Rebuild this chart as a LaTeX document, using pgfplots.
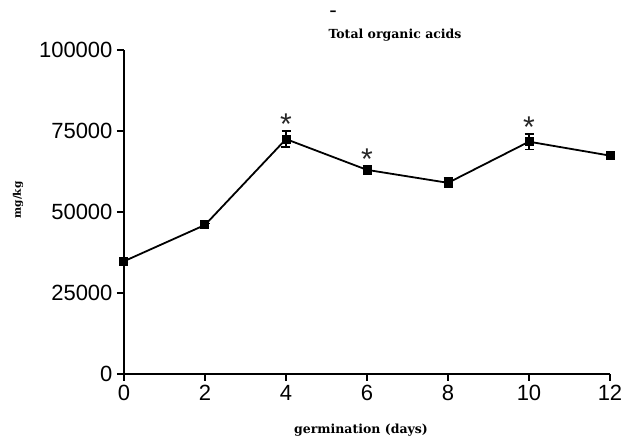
\documentclass[border=0pt]{standalone}
\usepackage{fontspec}
\setmainfont{Liberation Sans}
\newfontfamily\serifbold{DejaVu Serif}
\usepackage{pgfplots}
\pgfplotsset{compat=1.18}

% Mean total organic acids (mg/kg) and SD per germination day
\pgfplotstableread{
day  mean   err
0    34800  400
2    46000  500
4    72500  2500
6    63000  1400
8    59000  1500
10   71700  2400
12   67400  500
}\acids

% Positions of the significance marks (top of the error bar)
\pgfplotstableread{
day  top
4    75000
6    64400
10   74100
}\signif

\begin{document}
\begin{tikzpicture}[x=1pt,y=1pt]
\path[use as bounding box] (0,0) rectangle (622,436);
\begin{axis}[
  at={(124pt,62pt)}, anchor=origin,
  scale only axis, width=486pt, height=324pt,
  xmin=0, xmax=12, ymin=0, ymax=100000,
  axis x line*=bottom, axis y line*=left,
  axis line style={-, line width=1.6pt, black},
  xtick={0,2,4,6,8,10,12},
  xticklabels={0,2,4,6,8,10,12},
  ytick={0,25000,50000,75000,100000},
  yticklabels={0,25000,50000,75000,100000},
  scaled y ticks=false,
  tick align=outside,
  major tick length=7pt,
  tick style={line width=1.6pt, black},
  ticklabel style={font=\fontsize{22}{22}\selectfont},
  yticklabel style={xshift=-1pt},
  xticklabel style={yshift=-1pt},
  clip=false,
]
\addplot[black, line width=1.8pt, mark=square*, mark size=3.6pt,
  mark options={solid},
  error bars/.cd, y dir=both, y explicit,
  error bar style={line width=1.6pt},
  error mark options={rotate=90, mark size=4.5pt, line width=1.6pt}]
  table[x=day, y=mean, y error=err] {\acids};
\addplot[draw=none, mark=none,
  nodes near coords={*},
  every node near coord/.append style={anchor=base, yshift=-4pt,
    font=\fontsize{30}{30}\selectfont, text=black!85, inner sep=0pt}]
  table[x=day, y=top] {\signif};
\end{axis}
\node[font=\serifbold\bfseries\fontsize{12.5}{13}\selectfont] at (395,401) {Total organic acids};
\node[font=\serifbold\bfseries\fontsize{14}{14}\selectfont] at (333,423) {–};
\node[font=\serifbold\bfseries\fontsize{12.5}{13}\selectfont] at (361,6) {germination (days)};
\node[font=\serifbold\bfseries\fontsize{10.5}{11}\selectfont, rotate=90] at (18,236) {mg/kg};
\end{tikzpicture}
\end{document}
